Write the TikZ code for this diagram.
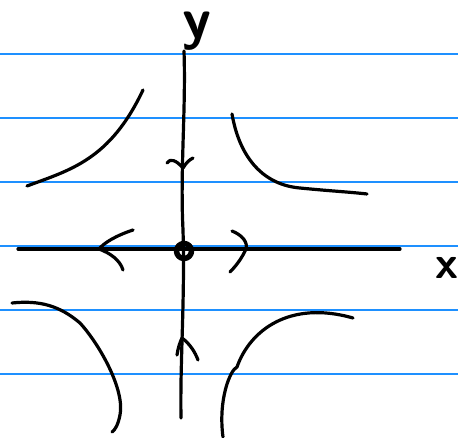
\documentclass[tikz,border=0pt]{standalone}
\usepackage{fontspec}
\begin{document}
\begin{tikzpicture}[x=1pt,y=-1pt,
  ruled/.style={draw={rgb,255:red,30;green,144;blue,255},line width=1.1pt},
  ink/.style={draw=black,line width=3.2pt,line cap=round,line join=round},
  lbl/.style={inner sep=0pt,anchor=base,font=\sffamily\bfseries\fontsize{#1}{#1}\selectfont}]
\useasboundingbox (0,0) rectangle (458,438);
\fill[white] (0,0) rectangle (458,438);
% ruled lines
\foreach \yy in {54,118,182,246,310,374}
  \draw[ruled] (0,\yy) -- (458,\yy);
% axes
\coordinate (xl) at (18,249);
\coordinate (xr) at (400,249);
\coordinate (yt) at (184,51);
\coordinate (yb) at (181,418);
\draw[ink] (xl) -- (xr);
\draw[ink] (yt) .. controls (186,110) and (180,170) .. (183,230) .. controls (185,300) and (180,360) .. (yb);
% origin
\coordinate (o) at (184,251);
\draw[ink,line width=5.5pt] (o) circle[radius=7.5];
% arrows on x-axis
\coordinate (la) at (99,249);
\coordinate (ra) at (246,249);
\draw[ink] (133,230) .. controls (115,236) and (104,243) .. (la) .. controls (110,253) and (120,260) .. (123,270);
\draw[ink] (232,231) .. controls (242,235) and (248,242) .. (ra) .. controls (242,258) and (236,266) .. (230,272);
% arrows on y-axis
\coordinate (ua) at (183,168);
\coordinate (da) at (182,338);
\draw[ink] (167,163) .. controls (170,158) and (176,160) .. (ua) .. controls (186,163) and (189,160) .. (193,158);
\draw[ink] (177,355) .. controls (178,348) and (180,342) .. (da) .. controls (190,344) and (195,352) .. (198,360);
% hyperbola branches
\draw[ink] (27,186) .. controls (70,170) and (110,160) .. (143,90);
\draw[ink] (232,114) .. controls (240,160) and (265,185) .. (300,188) .. controls (330,191) and (350,192) .. (367,194);
\draw[ink] (12,303) .. controls (40,300) and (60,306) .. (80,323) .. controls (100,345) and (125,390) .. (120,415) .. controls (118,425) and (115,430) .. (112,432);
\draw[ink] (223,437) .. controls (218,400) and (230,370) .. (237,367) .. controls (250,330) and (290,300) .. (353,318);
% labels
\node[lbl=58] (ylab) at (197,39) {y};
\node[lbl=46] (xlab) at (447,279) {x};
\end{tikzpicture}
\end{document}
